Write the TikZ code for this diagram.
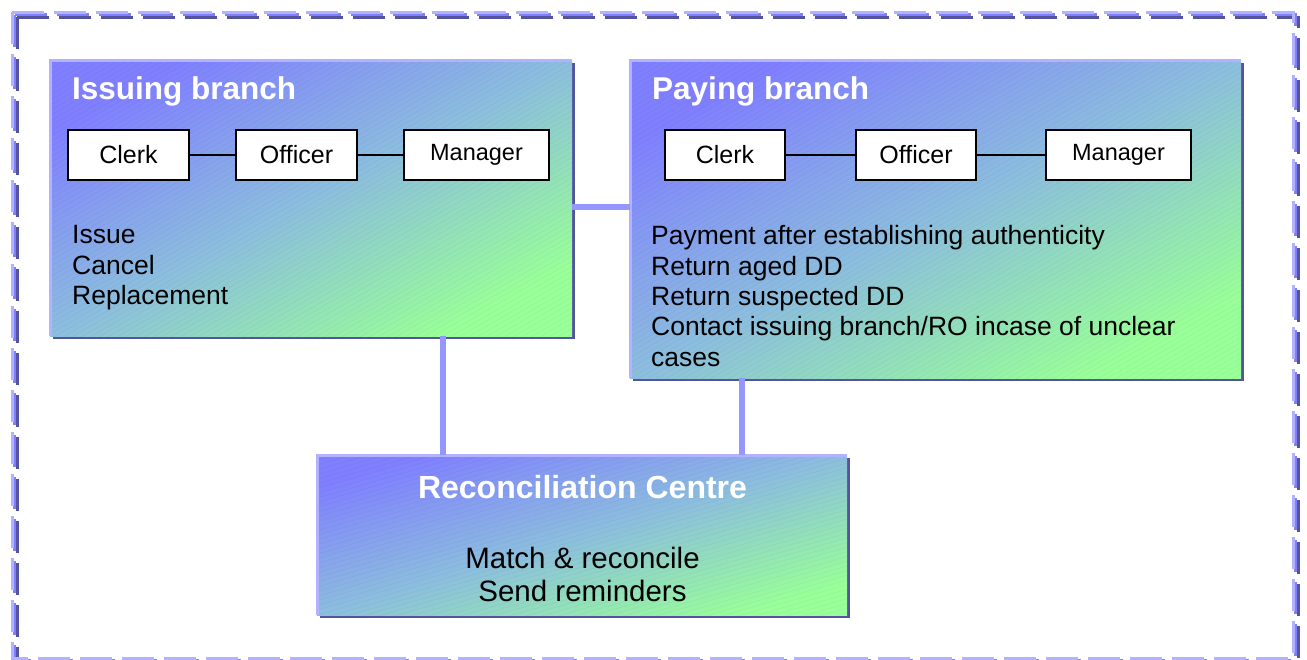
\documentclass[tikz,border=0pt]{standalone}
\usepackage{fontspec}
\setmainfont{Liberation Sans}
\usetikzlibrary{shadows}
\usetikzlibrary{patterns.meta}
\definecolor{blue1}{RGB}{128, 128, 255}
\definecolor{green1}{RGB}{153, 255, 153}
\definecolor{mid1}{RGB}{140, 190, 222}
\definecolor{edge1}{RGB}{178, 178, 255}
\definecolor{dark1}{RGB}{84, 84, 158}
\definecolor{link1}{RGB}{150, 150, 255}

\begin{document}
\begin{tikzpicture}[x=1pt, y=-1pt,
  box/.style={rectangle, anchor=north west, inner sep=0pt,
    top color=blue1, bottom color=green1, middle color=mid1, shading angle=#1,
    drop shadow={shadow xshift=3pt, shadow yshift=-3pt, fill=dark1, opacity=1}},
  hatch/.style={postaction={pattern={Lines[angle=#1, distance=4.5pt, line width=0.4pt]},
      pattern color=black, opacity=0.05}},
  role/.style={rectangle, draw=black, line width=1.5pt, fill=white,
    minimum height=50pt, font=\fontsize{25}{30}\selectfont},
  head/.style={anchor=west, inner sep=0pt, text=white,
    font=\fontsize{31.5}{36}\selectfont\bfseries},
  body/.style={anchor=north west, align=left, inner sep=0pt,
    font=\fontsize{26.5}{30.3}\selectfont},
  link/.style={draw=link1, line width=6pt},
  rim/.style={draw=edge1, line width=3pt},
  frame/.style={line width=3pt, dash pattern=on 32pt off 10pt}]
\useasboundingbox (0,0) rectangle (1307,659);
\clip (0,0) rectangle (1307,659);
% dashed outer frame
\draw[frame, draw=dark1] (17,17) rectangle (1298,663);
\draw[frame, draw=blue1] (14.5,14.5) rectangle (1295.5,660.5);
\draw[frame, draw=edge1] (12,12) rectangle (1293,658);
% the three units
\node[box=27.9, hatch=30, minimum width=522pt, minimum height=276pt] (ib) at (50,60) {};
\node[box=27.5, hatch=30, minimum width=611pt, minimum height=318pt] (pb) at (630,60) {};
\node[box=16.8, hatch=16, minimum width=530pt, minimum height=160pt] (rc) at (317,455) {};
\foreach \b in {ib, pb, rc}
  \draw[rim] (\b.south west) -- (\b.north west) -- (\b.north east);
\coordinate (j0) at (0,207);
\coordinate (j1) at (443,0);
\coordinate (j2) at (742,0);
\draw[link] (ib.east |- j0) -- (pb.west |- j0);
\draw[link] (ib.south -| j1) -- (rc.north -| j1);
\draw[link] (pb.south -| j2) -- (rc.north -| j2);
\node[head] (ibt) at (72,91) {Issuing branch};
\node[head] (pbt) at (652,91) {Paying branch};
\node[head, anchor=center, font=\fontsize{32}{36}\selectfont\bfseries] (rct) at (582.5,487) {Reconciliation Centre};
% roles
\node[role, minimum width=121pt] (c1) at (128.5,155) {Clerk};
\node[role, minimum width=121pt] (o1) at (296.5,155) {Officer};
\node[role, minimum width=145pt, font=\fontsize{23.5}{28}\selectfont] (m1) at (476.5,155) {Manager};
\node[role, minimum width=120pt] (c2) at (725,155) {Clerk};
\node[role, minimum width=120pt] (o2) at (916,155) {Officer};
\node[role, minimum width=145pt, font=\fontsize{23.5}{28}\selectfont] (m2) at (1118.5,155) {Manager};
\foreach \from/\to in {c1/o1, o1/m1, c2/o2, o2/m2}
  \draw[line width=1.5pt] (\from) -- (\to);
% duties
\node[body] (ibx) at (72,225.5) {Issue\\Cancel\\Replacement};
\node[body] (pbx) at (651,225.5) {Payment after establishing authenticity\\Return aged DD\\Return suspected DD\\Contact issuing branch/RO incase of unclear\\cases};
\node[body, anchor=north, align=center, font=\fontsize{29.5}{33}\selectfont] (rcx) at (582.5,546.5) {Match \& reconcile\\Send reminders};
\end{tikzpicture}
\end{document}
